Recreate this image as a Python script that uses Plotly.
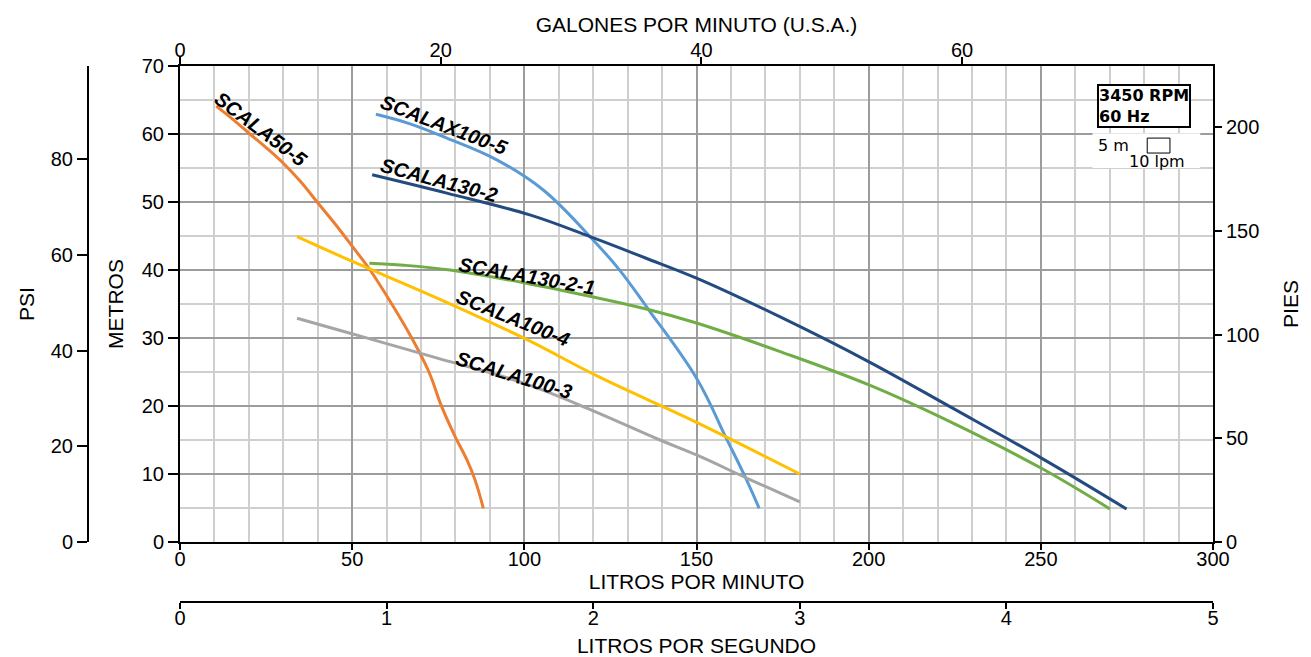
import plotly.graph_objects as go

# ---------------- data ----------------
lpm_ticks = [0, 50, 100, 150, 200, 250, 300]
m_ticks = [0, 10, 20, 30, 40, 50, 60, 70]
gpm_ticks = [0, 20, 40, 60]
psi_ticks = [0, 20, 40, 60, 80]
ft_ticks = [0, 50, 100, 150, 200]
lps_ticks = [0, 1, 2, 3, 4, 5]

scala50_5_x = [10.5, 15, 20.3, 25, 30, 35, 40, 45, 50, 55.2, 61.5, 67.3, 72.3, 76, 79.9, 83.3, 85.7, 88.1]
scala50_5_y = [64.1, 62.3, 60, 58, 55.7, 53, 49.9, 46.8, 43.5, 40, 35, 30, 25, 19.9, 15.5, 12.1, 9.1, 4.95]

scalax100_5_x = [56.9, 66.8, 77.5, 92.0, 105.4, 119.1, 127.5, 135.9, 150.1, 158.8, 164.1, 168.2]
scalax100_5_y = [62.9, 61.5, 59.4, 56.2, 51.8, 44.9, 40.1, 34.3, 24.0, 15.1, 9.6, 4.95]

scala130_2_x = [55.8, 77.5, 101.6, 119.1, 135, 150, 174.3, 200.1, 223.6, 250.3, 274.9]
scala130_2_y = [54.0, 51.3, 48.1, 44.9, 41.8, 38.8, 33.1, 26.5, 19.9, 12.3, 4.85]

scala130_2_1_x = [55, 65, 78.4, 100.2, 110.4, 136, 150, 174.3, 200.1, 223.6, 250.3, 270.1]
scala130_2_1_y = [41, 40.7, 40, 38.1, 37.06, 34.2, 32.2, 28.0, 23.1, 17.7, 10.8, 4.85]

scala100_4_x = [34, 49.4, 75, 100.2, 122, 150, 180]
scala100_4_y = [44.9, 41.4, 35.8, 29.9, 24.2, 17.6, 10]

scala100_3_x = [34, 49.4, 75, 100.2, 120, 139.4, 150, 165, 180]
scala100_3_y = [32.9, 30.7, 27.0, 23.3, 19.3, 15, 12.8, 9.3, 5.9]

series = [
    ("SCALA50-5", scala50_5_x, scala50_5_y, "#ED7D31"),
    ("SCALAX100-5", scalax100_5_x, scalax100_5_y, "#5B9BD5"),
    ("SCALA130-2", scala130_2_x, scala130_2_y, "#244B80"),
    ("SCALA130-2-1", scala130_2_1_x, scala130_2_1_y, "#70AD47"),
    ("SCALA100-4", scala100_4_x, scala100_4_y, "#FFC000"),
    ("SCALA100-3", scala100_3_x, scala100_3_y, "#A5A5A5"),
]

# label placement (data coords) and angle
labels = [
    ("SCALA50-5", 23.4, 60.7, 37),
    ("SCALAX100-5", 76.7, 61.3, 21),
    ("SCALA130-2", 75.1, 53.2, 15),
    ("SCALA130-2-1", 100.8, 39.1, 10),
    ("SCALA100-4", 96.7, 32.9, 22),
    ("SCALA100-3", 97.0, 24.6, 17),
]

LPM_MAX = 300
M_MAX = 70
GPM_PER_LPM = 1 / 3.785411784
PSI_PER_M = 1.4219702
FT_PER_M = 3.2808399

FONT = "Liberation Sans, Arial, sans-serif"

fig = go.Figure()
for name, xs, ys, col in series:
    fig.add_trace(go.Scatter(x=xs, y=ys, mode="lines", name=name,
                             line=dict(color=col, width=3, shape="spline", smoothing=1.1),
                             showlegend=False, hoverinfo="skip"))

# empty traces so that the secondary axes get drawn
for xa, ya in [("x2", "y"), ("x", "y2"), ("x", "y3"), ("x3", "y")]:
    fig.add_trace(go.Scatter(x=[], y=[], xaxis=xa, yaxis=ya, mode="lines",
                             showlegend=False, hoverinfo="skip"))

# page has an 8px body margin; figure coords = page coords - 8
W, H = 1303, 649
OFF = 8
L = 80 - OFF
R = W - (1213 - OFF)
T = 66 - OFF
B = H - (602 - OFF)
pw = W - L - R
ph = H - T - B
x0 = (180 - 80) / pw
y0 = (602 - 542) / ph

axis_common = dict(showline=True, linecolor="black", linewidth=2, ticks="outside",
                   tickcolor="black", tickwidth=2, zeroline=False, automargin=False,
                   tickfont=dict(family=FONT, size=20, color="black"), fixedrange=True)

fig.update_layout(
    width=W, height=H,
    margin=dict(l=L, r=R, t=T, b=B),
    paper_bgcolor="white", plot_bgcolor="white",
    font=dict(family=FONT, color="black"),
    xaxis=dict(domain=[x0, 1], range=[0, LPM_MAX], tickvals=lpm_ticks, ticklen=6,
               ticklabelstandoff=-8,
               showgrid=True, gridcolor="#9c9c9c", gridwidth=2,
               minor=dict(dtick=10, showgrid=True, gridcolor="#cfcfcf", gridwidth=1.5, ticks=""),
               title=dict(text="LITROS POR MINUTO", standoff=1, font=dict(size=21)),
               anchor="y", **axis_common),
    yaxis=dict(domain=[y0, 1], range=[0, M_MAX], tickvals=m_ticks, ticklen=10,
               showgrid=True, gridcolor="#9c9c9c", gridwidth=2,
               minor=dict(dtick=5, showgrid=True, gridcolor="#cfcfcf", gridwidth=1.5, ticks=""),
               title=dict(text="METROS", standoff=12, font=dict(size=21)),
               anchor="x", **axis_common),
    xaxis2=dict(overlaying="x", side="top", anchor="y", domain=[x0, 1],
                range=[0, LPM_MAX * GPM_PER_LPM], tickvals=gpm_ticks, ticklen=7,
                ticklabelstandoff=-8,
                showgrid=False,
                title=dict(text="GALONES POR MINUTO (U.S.A.)", standoff=1, font=dict(size=21)),
                **axis_common),
    yaxis2=dict(overlaying="y", side="left", anchor="free", position=8 / pw,
                range=[0, M_MAX * PSI_PER_M], tickvals=psi_ticks, ticklen=10,
                showgrid=False,
                title=dict(text="PSI", standoff=9, font=dict(size=21)),
                **axis_common),
    yaxis3=dict(overlaying="y", side="right", anchor="x",
                range=[0, M_MAX * FT_PER_M], tickvals=ft_ticks, ticklen=7,
                showgrid=False,
                title=dict(text="PIES", standoff=25, font=dict(size=21)),
                **axis_common),
    xaxis3=dict(overlaying="x", side="bottom", anchor="free", position=0, domain=[x0, 1],
                range=[0, LPM_MAX / 60], tickvals=lps_ticks, ticklen=6,
                ticklabelstandoff=-8,
                showgrid=False,
                title=dict(text="LITROS POR SEGUNDO", standoff=12, font=dict(size=21)),
                **axis_common),
)

# curve labels
for txt, lx, ly, ang in labels:
    fig.add_annotation(x=lx, y=ly, xref="x", yref="y", text=txt, showarrow=False,
                       textangle=ang,
                       font=dict(family=FONT, size=20, color="black", weight="bold", style="italic"))

# speed box
fig.add_annotation(x=280.1, y=64.1, xref="x", yref="y", text="3450 RPM<br>60 Hz",
                   showarrow=False, align="left", bgcolor="white",
                   bordercolor="black", borderwidth=2, borderpad=0,
                   font=dict(family="DejaVu Sans", size=16, color="black", weight="bold"))

# scale legend box
fig.add_shape(type="rect", xref="x", yref="y", x0=265.0, x1=296.3, y0=55.0, y1=60.1,
              fillcolor="white", line=dict(width=0), layer="above")
fig.add_shape(type="rect", xref="x", yref="y", x0=280.9, x1=287.5, y0=57.2, y1=59.4,
              fillcolor="white", line=dict(color="black", width=1), layer="above")
fig.add_annotation(x=271.0, y=58.3, xref="x", yref="y", text="5 m", showarrow=False,
                   font=dict(family="DejaVu Sans", size=16, color="black"))
fig.add_annotation(x=283.8, y=55.9, xref="x", yref="y", text="10 lpm", showarrow=False,
                   font=dict(family="DejaVu Sans", size=16, color="black"))

fig.write_html("out.html")
